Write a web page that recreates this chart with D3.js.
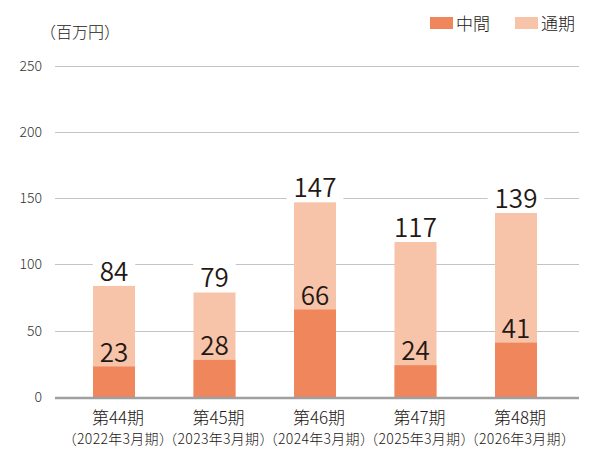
<!DOCTYPE html>
<html>
<head>
<meta charset="utf-8">
<script src="https://cdn.jsdelivr.net/npm/d3@7"></script>
<style>
  body { margin: 0; background: #fff; }
  text { font-family: "Noto Sans CJK JP", "Noto Sans", sans-serif; fill: #231815; font-weight: 300; }
</style>
</head>
<body>
<div id="chart"></div>
<script>
// data
var periods = ['第44期', '第45期', '第46期', '第47期', '第48期'];
var fiscal = ['（2022年3月期）', '（2023年3月期）', '（2024年3月期）', '（2025年3月期）', '（2026年3月期）'];
var interim = [23, 28, 66, 24, 41];
var fullYear = [84, 79, 147, 117, 139];
var yTicks = [0, 50, 100, 150, 200, 250];
var seriesNames = ['中間', '通期'];

var colors = { interim: '#ef865c', full: '#f8c4a9' };

var width = 600, height = 475;
var barWidth = 42;

var svg = d3.select('#chart')
    .append('svg')
    .attr('width', width)
    .attr('height', height);

var y = d3.scaleLinear()
    .domain([0, 250])
    .range([397, 65.7]);

var x = d3.scalePoint()
    .domain(periods)
    .range([114, 516]);

// gridlines
svg.append('g')
    .selectAll('line')
    .data(yTicks.filter(function(d) { return d > 0; }))
    .enter()
    .append('line')
    .attr('x1', 55)
    .attr('x2', 579)
    .attr('y1', function(d) { return Math.round(y(d)) + 0.5; })
    .attr('y2', function(d) { return Math.round(y(d)) + 0.5; })
    .attr('stroke', '#c4c4c4')
    .attr('stroke-width', 1.2);

// y tick labels
svg.append('g')
    .selectAll('text')
    .data(yTicks)
    .enter()
    .append('text')
    .attr('x', 42)
    .attr('y', function(d) { return y(d) + 5; })
    .attr('text-anchor', 'end')
    .style('font-size', '14px')
    .style('fill', '#333')
    .text(function(d) { return d; });

svg.append('text')
    .attr('x', 40)
    .attr('y', 38)
    .style('font-size', '16px')
    .text('（百万円）');

// bars: full year (back), interim (front)
var bars = svg.append('g');
bars.selectAll('rect.full')
    .data(periods)
    .enter()
    .append('rect')
    .attr('class', 'full')
    .attr('x', function(d) { return x(d) - barWidth / 2; })
    .attr('width', barWidth)
    .attr('y', function(d, i) { return y(fullYear[i]); })
    .attr('height', function(d, i) { return y(0) - y(fullYear[i]); })
    .attr('fill', colors.full);

bars.selectAll('rect.interim')
    .data(periods)
    .enter()
    .append('rect')
    .attr('class', 'interim')
    .attr('x', function(d) { return x(d) - barWidth / 2; })
    .attr('width', barWidth)
    .attr('y', function(d, i) { return y(interim[i]); })
    .attr('height', function(d, i) { return y(0) - y(interim[i]); })
    .attr('fill', colors.interim);

// zero axis
svg.append('line')
    .attr('x1', 55)
    .attr('x2', 579)
    .attr('y1', y(0) + 1)
    .attr('y2', y(0) + 1)
    .attr('stroke', '#a0a0a0')
    .attr('stroke-width', 2.5);

// value labels
var totalLabels = svg.append('g');
periods.forEach(function(p, i) {
    var g = totalLabels.append('g');
    var bg = g.append('rect').attr('fill', '#fff');
    var t = g.append('text')
        .attr('x', x(p))
        .attr('y', y(fullYear[i]) - 5)
        .attr('text-anchor', 'middle')
        .style('font-size', '26px')
        .style('font-weight', 350)
        .text(fullYear[i]);
    var bb = t.node().getBBox();
    bg.attr('x', bb.x - 7)
        .attr('y', bb.y + 4)
        .attr('width', bb.width + 14)
        .attr('height', bb.height - 6);
});

svg.append('g')
    .selectAll('text')
    .data(periods)
    .enter()
    .append('text')
    .attr('x', function(d) { return x(d); })
    .attr('y', function(d, i) { return y(interim[i]) - 5; })
    .attr('text-anchor', 'middle')
    .style('font-size', '26px')
    .style('font-weight', 350)
    .text(function(d, i) { return interim[i]; });

// x labels
svg.append('g')
    .selectAll('text')
    .data(periods)
    .enter()
    .append('text')
    .attr('x', function(d) { return x(d) + 4; })
    .attr('y', 424)
    .attr('text-anchor', 'middle')
    .style('font-size', '17px')
    .text(function(d) { return d; });

svg.append('g')
    .selectAll('text')
    .data(fiscal)
    .enter()
    .append('text')
    .attr('x', function(d, i) { return x(periods[i]) + 4; })
    .attr('y', 444)
    .attr('text-anchor', 'middle')
    .style('font-size', '14px')
    .style('letter-spacing', '0.3px')
    .text(function(d) { return d; });

// legend
var legendX = [430, 515];
var legend = svg.append('g');
seriesNames.forEach(function(name, i) {
    legend.append('rect')
        .attr('x', legendX[i])
        .attr('y', 17)
        .attr('width', 23)
        .attr('height', 12)
        .attr('fill', i === 0 ? colors.interim : colors.full);
    legend.append('text')
        .attr('x', legendX[i] + 26)
        .attr('y', 30)
        .style('font-size', '17px')
        .text(name);
});
</script>
</body>
</html>
